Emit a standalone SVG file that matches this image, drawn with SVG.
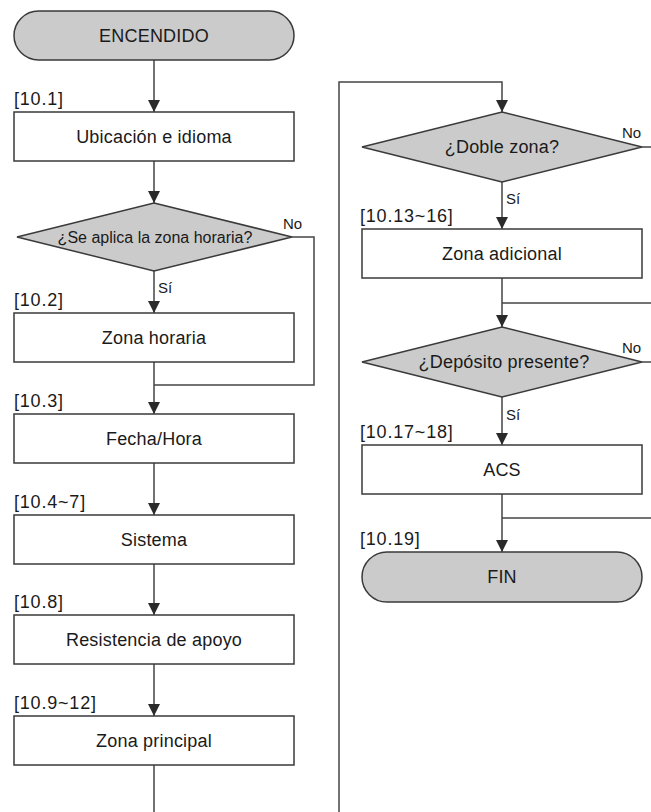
<svg xmlns="http://www.w3.org/2000/svg" width="651" height="812" viewBox="0 0 651 812">
<style>
.box{fill:#ffffff;stroke:#3a3a3a;stroke-width:1.5}
.term{fill:#cbcbcb;stroke:#3a3a3a;stroke-width:1.5}
.dec{fill:#cbcbcb;stroke:#3a3a3a;stroke-width:1.5}
.t{font-family:"Liberation Sans",Arial,sans-serif;font-size:18px;fill:#1a1a1a;text-anchor:middle;letter-spacing:0.2px}
.lbl{font-family:"Liberation Sans",Arial,sans-serif;font-size:18px;fill:#1a1a1a;letter-spacing:0.8px}
.yn{font-family:"Liberation Sans",Arial,sans-serif;font-size:15px;fill:#1a1a1a}
.c{fill:none;stroke:#444444;stroke-width:1.5}
</style>
<defs>
<marker id="arr" markerUnits="userSpaceOnUse" markerWidth="14" markerHeight="14" viewBox="0 0 14 14" refX="7" refY="12" orient="auto-start-reverse">
<path d="M1,0 L13,0 L7,12 Z" fill="#2a2a2a" transform="rotate(-90 7 7)"/>
</marker>
<marker id="ah" markerUnits="userSpaceOnUse" markerWidth="14" markerHeight="14" viewBox="0 0 14 14" refX="12" refY="7" orient="auto">
<path d="M0,1 L12,7 L0,13 Z" fill="#2a2a2a"/>
</marker>
</defs>
<g id="connectors">
<path class="c" d="M154,60 V112" marker-end="url(#ah)"/>
<path class="c" d="M154,161 V203" marker-end="url(#ah)"/>
<path class="c" d="M154,271 V313" marker-end="url(#ah)"/>
<path class="c" d="M292,237 H314 V385 H154"/>
<path class="c" d="M154,362 V414" marker-end="url(#ah)"/>
<path class="c" d="M154,463 V515" marker-end="url(#ah)"/>
<path class="c" d="M154,564 V615" marker-end="url(#ah)"/>
<path class="c" d="M154,664 V716" marker-end="url(#ah)"/>
<path class="c" d="M154,765 V814"/>
<path class="c" d="M339,814 V82 H502 V112" marker-end="url(#ah)"/>
<path class="c" d="M642,147 H653"/>
<path class="c" d="M502,182 V229" marker-end="url(#ah)"/>
<path class="c" d="M502,278 V327" marker-end="url(#ah)"/>
<path class="c" d="M502,303 H653"/>
<path class="c" d="M642,362 H653"/>
<path class="c" d="M502,397 V445" marker-end="url(#ah)"/>
<path class="c" d="M502,494 V552" marker-end="url(#ah)"/>
<path class="c" d="M502,518 H653"/>
<text class="yn" x="283" y="229">No</text>
<text class="yn" x="158" y="293">Sí</text>
<text class="yn" x="622" y="138">No</text>
<text class="yn" x="506" y="204">Sí</text>
<text class="yn" x="622" y="353">No</text>
<text class="yn" x="506" y="420">Sí</text>
</g>
<g id="n_encendido">
<rect class="term" x="14" y="11" width="280" height="49" rx="24.5"/>
<text class="t" x="154" y="42">ENCENDIDO</text>
</g>
<g id="n_ubicacion">
<text class="lbl" x="14" y="105">[10.1]</text>
<rect class="box" x="14" y="112" width="280" height="49"/>
<text class="t" x="154" y="143">Ubicación e idioma</text>
</g>
<g id="n_zona_horaria_q">
<polygon class="dec" points="154,203 292,237 154,271 17,237"/>
<text class="t" x="155" y="243" style="font-size:16px;letter-spacing:0">¿Se aplica la zona horaria?</text>
</g>
<g id="n_zona_horaria">
<text class="lbl" x="14" y="306">[10.2]</text>
<rect class="box" x="14" y="313" width="280" height="49"/>
<text class="t" x="154" y="344">Zona horaria</text>
</g>
<g id="n_fecha">
<text class="lbl" x="14" y="407">[10.3]</text>
<rect class="box" x="14" y="414" width="280" height="49"/>
<text class="t" x="154" y="445">Fecha/Hora</text>
</g>
<g id="n_sistema">
<text class="lbl" x="14" y="508">[10.4~7]</text>
<rect class="box" x="14" y="515" width="280" height="49"/>
<text class="t" x="154" y="546">Sistema</text>
</g>
<g id="n_resistencia">
<text class="lbl" x="14" y="608">[10.8]</text>
<rect class="box" x="14" y="615" width="280" height="49"/>
<text class="t" x="154" y="646">Resistencia de apoyo</text>
</g>
<g id="n_zona_principal">
<text class="lbl" x="14" y="709">[10.9~12]</text>
<rect class="box" x="14" y="716" width="280" height="49"/>
<text class="t" x="154" y="747">Zona principal</text>
</g>
<g id="n_doble_zona">
<polygon class="dec" points="502,112 642,147 502,182 362,147"/>
<text class="t" x="502" y="153">¿Doble zona?</text>
</g>
<g id="n_zona_adicional">
<text class="lbl" x="360" y="222">[10.13~16]</text>
<rect class="box" x="362" y="229" width="280" height="49"/>
<text class="t" x="502" y="260">Zona adicional</text>
</g>
<g id="n_deposito">
<polygon class="dec" points="502,327 642,362 502,397 362,362"/>
<text class="t" x="504" y="368">¿Depósito presente?</text>
</g>
<g id="n_acs">
<text class="lbl" x="360" y="438">[10.17~18]</text>
<rect class="box" x="362" y="445" width="280" height="49"/>
<text class="t" x="502" y="476">ACS</text>
</g>
<g id="n_fin">
<text class="lbl" x="360" y="545">[10.19]</text>
<rect class="term" x="362" y="552" width="280" height="50" rx="25"/>
<text class="t" x="502" y="583">FIN</text>
</g>
</svg>
